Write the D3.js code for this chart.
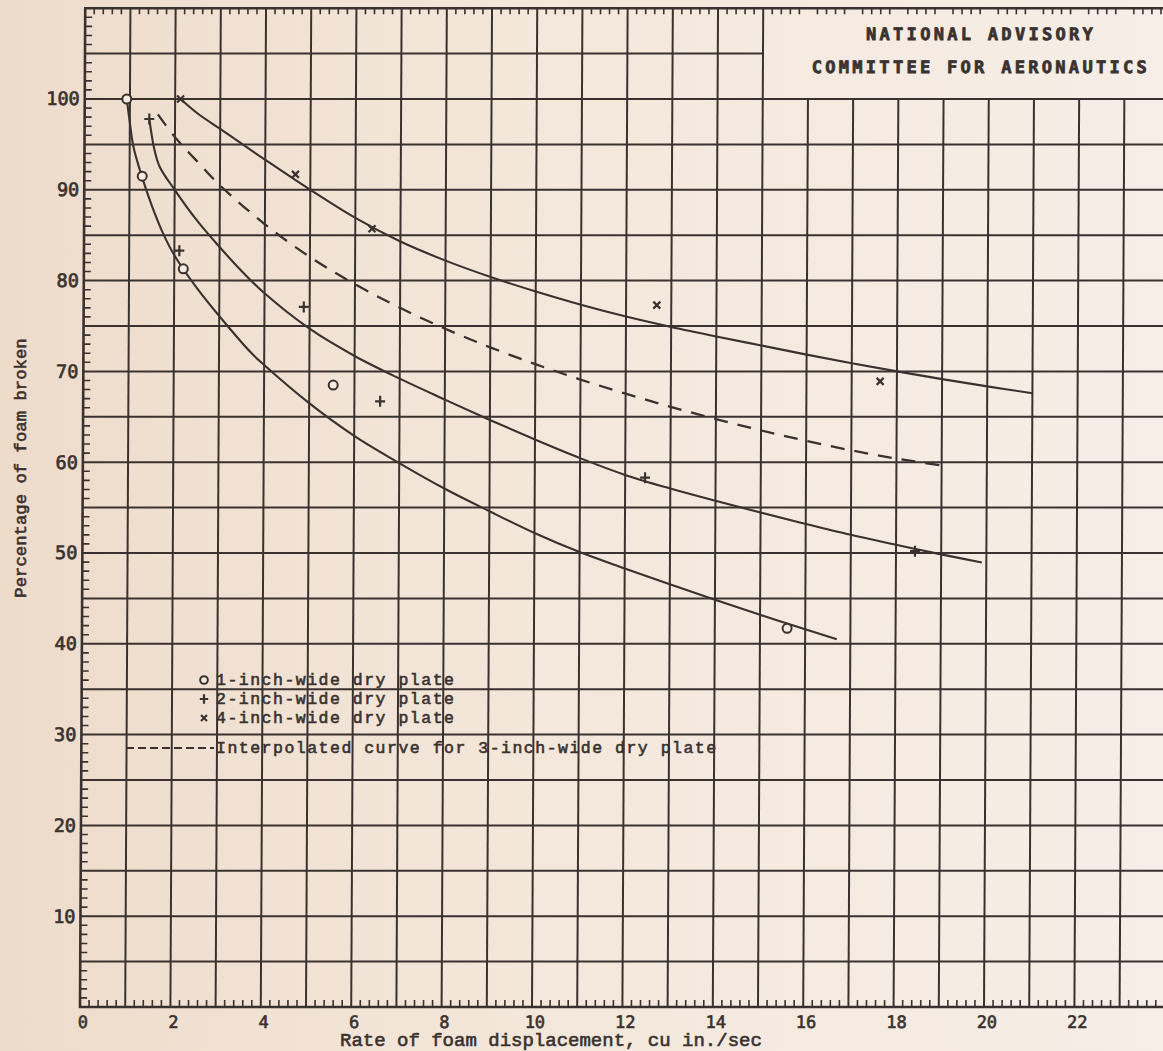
<!DOCTYPE html>
<html><head><meta charset="utf-8">
<script src="https://cdn.jsdelivr.net/npm/d3@7"></script>
<style>html,body{margin:0;padding:0;background:#f2e4d5;} svg{display:block}</style>
</head><body>
<script>
// ---------- data ----------
const xTicks = [0, 2, 4, 6, 8, 10, 12, 14, 16, 18, 20, 22];
const yTicks = [10, 20, 30, 40, 50, 60, 70, 80, 90, 100];

// measured points
const oneInchPoints  = [[0.93,100],[1.28,91.5],[2.2,81.3],[5.53,68.5],[15.6,41.7]];
const twoInchPoints  = [[1.43,97.8],[2.11,83.3],[4.87,77.1],[6.57,66.7],[12.44,58.3],[18.42,50.2]];
const fourInchPoints = [[2.12,100],[4.67,91.7],[6.37,85.7],[12.68,77.3],[17.63,68.9]];

// faired curves
const oneInchCurve = [[0.93,100],[1.0,97.4],[1.08,94.8],[1.27,91.5],[1.5,88.2],[1.73,85.4],[2,82.8],[2.5,79.2],[3,76.1],[3.7,72.1],[4,70.7],[5,66.5],[6,62.9],[7,59.9],[8,57.1],[9,54.6],[10,52.2],[11,50.1],[12,48.3],[13,46.55],[14,44.85],[15,43.2],[16,41.6],[16.7,40.5]];
const twoInchCurve = [[1.43,97.8],[1.48,96.2],[1.53,94.8],[1.66,92.6],[2,90],[2.5,86.6],[3,83.7],[3.5,81],[4,78.6],[5,74.7],[6,71.7],[7,69.2],[8,66.9],[9,64.65],[10,62.5],[11,60.45],[12,58.6],[13,57.1],[14,55.75],[15,54.45],[16,53.2],[17,52.0],[18,50.9],[19,49.85],[19.9,48.95]];
const threeInchCurve = [[1.62,98.3],[2,95.8],[2.5,93.1],[3,90.5],[4,86.2],[5,82.6],[6,79.6],[7,77.0],[8,74.7],[9,72.65],[10,70.8],[11,69.1],[12,67.55],[13,66.1],[14,64.75],[15,63.5],[16,62.35],[17,61.3],[18,60.4],[19,59.65]];
const fourInchCurve = [[2.12,100],[2.5,98.4],[3,96.7],[3.5,95.0],[4,93.3],[5,90.0],[6,86.9],[7,84.3],[8,82.2],[9,80.4],[10,78.8],[11,77.35],[12,76.05],[13,74.9],[14,73.85],[15,72.85],[16,71.85],[17,70.9],[18,70.0],[19,69.15],[20,68.35],[21,67.6]];

const legendLabels = ["1-inch-wide dry plate","2-inch-wide dry plate","4-inch-wide dry plate","Interpolated curve for 3-inch-wide dry plate"];
const headerLines = ["NATIONAL ADVISORY","COMMITTEE FOR AERONAUTICS"];
const xTitle = "Rate of foam displacement, cu in./sec";
const yTitle = "Percentage of foam broken";

// ---------- drawing ----------
const W = 1163, H = 1051;
const ink = "#3a3230";
const svg = d3.select("body").append("svg").attr("width", W).attr("height", H);

const defs = svg.append("defs");
const grad = defs.append("linearGradient").attr("id","paper").attr("x1","0").attr("x2","1").attr("y1","0").attr("y2","0");
grad.append("stop").attr("offset","0").attr("stop-color","#eedccb");
grad.append("stop").attr("offset","0.5").attr("stop-color","#f4e8dc");
grad.append("stop").attr("offset","1").attr("stop-color","#f6eee7");
svg.append("rect").attr("width",W).attr("height",H).attr("fill","url(#paper)");

const x = d3.scaleLinear().domain([0, 24]).range([80, 80 + 24 * 45.2]);
const y = d3.scaleLinear().domain([0, 110]).range([1007, 1007 - 110 * 9.08]);

const g = svg.append("g").attr("transform", "translate(0,1007) skewX(-0.3) translate(0,-1007)");

// grid
const vLines = d3.range(1, 25);
g.append("g").selectAll("line").data(vLines).join("line")
  .attr("x1", d => x(d)).attr("x2", d => x(d))
  .attr("y1", y(0)).attr("y2", d => d > 15 ? y(100) : y(110))
  .attr("stroke", ink).attr("stroke-width", 2);
const hLines = d3.range(5, 110, 5);
g.append("g").selectAll("line").data(hLines).join("line")
  .attr("x1", x(0)).attr("x2", d => d > 100 ? x(15) : x(24) + 30)
  .attr("y1", d => y(d)).attr("y2", d => y(d))
  .attr("stroke", ink).attr("stroke-width", 2);

// border
g.append("path")
  .attr("d", `M${x(24)+30},${y(110)}H${x(0)}V${y(0)}H${x(24)+30}`)
  .attr("fill","none").attr("stroke", ink).attr("stroke-width", 2.6);

// minor ticks
const xMinor = d3.range(0, 24.01, 0.2).filter(v => Math.abs(v - Math.round(v)) > 0.01);
g.append("g").selectAll("line").data(xMinor).join("line")
  .attr("x1", d => x(d)).attr("x2", d => x(d))
  .attr("y1", y(0)).attr("y2", y(0) - 7)
  .attr("stroke", ink).attr("stroke-width", 1.6);
g.append("g").selectAll("line").data(xMinor).join("line")
  .attr("x1", d => x(d)).attr("x2", d => x(d))
  .attr("y1", y(110)).attr("y2", y(110) + 6)
  .attr("stroke", ink).attr("stroke-width", 1.6);
const yMinor = d3.range(1, 110).filter(v => v % 5 !== 0);
g.append("g").selectAll("line").data(yMinor).join("line")
  .attr("x1", x(0)).attr("x2", x(0) + 7)
  .attr("y1", d => y(d)).attr("y2", d => y(d))
  .attr("stroke", ink).attr("stroke-width", 1.6);

// tick labels
g.append("g").selectAll("text").data(xTicks).join("text")
  .attr("x", d => x(d) + 3).attr("y", 1028)
  .attr("text-anchor","middle")
  .attr("font-family","'DejaVu Sans Mono', monospace").attr("font-size", 17)
  .attr("fill", ink).attr("stroke", ink).attr("stroke-width", 0.6).text(d => d);
g.append("g").selectAll("text").data(yTicks).join("text")
  .attr("x", x(0) - 5).attr("y", d => y(d) + 6.5)
  .attr("text-anchor","end")
  .attr("font-family","'DejaVu Sans Mono', monospace").attr("font-size", 18.5)
  .attr("fill", ink).attr("stroke", ink).attr("stroke-width", 0.7).text(d => d);

// header box text
g.append("g").selectAll("text").data(headerLines).join("text")
  .attr("x", 976).attr("y", (d, i) => 40 + i * 33)
  .attr("text-anchor","middle")
  .attr("font-family","'DejaVu Sans Mono', monospace").attr("font-size", 17).attr("font-weight","bold")
  .attr("letter-spacing", 3.3)
  .attr("fill", ink).attr("stroke", ink).attr("stroke-width", 0.8).text(d => d);

// curves
const line = d3.line().x(d => x(d[0])).y(d => y(d[1])).curve(d3.curveCatmullRom.alpha(0.5));
[oneInchCurve, twoInchCurve, fourInchCurve].forEach(c => {
  g.append("path").attr("d", line(c)).attr("fill","none").attr("stroke", ink).attr("stroke-width", 2.1);
});
g.append("path").attr("d", line(threeInchCurve)).attr("fill","none").attr("stroke", ink)
  .attr("stroke-width", 2.3).attr("stroke-dasharray","14,10");

// markers
function marker(sel, type, s) {
  if (type === "circle") {
    sel.append("circle").attr("r", 4.5 * s).attr("fill","#f5ebe1").attr("stroke", ink).attr("stroke-width", 2);
  } else if (type === "plus") {
    sel.append("path").attr("d", `M${-5*s},0H${5*s}M0,${-5.5*s}V${5.5*s}`).attr("stroke", ink).attr("stroke-width", 2.2);
  } else {
    sel.append("path").attr("d", `M${-3.5*s},${-3.5*s}L${3.5*s},${3.5*s}M${-3.5*s},${3.5*s}L${3.5*s},${-3.5*s}`).attr("stroke", ink).attr("stroke-width", 2.2);
  }
}
[[oneInchPoints,"circle"],[twoInchPoints,"plus"],[fourInchPoints,"cross"]].forEach(([pts, t]) => {
  g.append("g").selectAll("g").data(pts).join("g")
    .attr("transform", d => `translate(${x(d[0])},${y(d[1])})`)
    .each(function() { marker(d3.select(this), t, 1); });
});

// legend
const legendY = [680, 699, 718, 748];
const legTypes = ["circle","plus","cross"];
legTypes.forEach((t, i) => {
  const lg = svg.append("g").attr("transform", `translate(204,${legendY[i]})`);
  marker(lg, t, 0.85);
});
svg.append("line").attr("x1",126).attr("x2",214).attr("y1",legendY[3]).attr("y2",legendY[3])
  .attr("stroke", ink).attr("stroke-width", 2).attr("stroke-dasharray","8,4");
svg.append("g").selectAll("text").data(legendLabels).join("text")
  .attr("x", 216).attr("y", (d, i) => legendY[i] + 5)
  .attr("font-family","'Liberation Mono', 'Courier New', monospace").attr("font-size", 16.5)
  .attr("letter-spacing", 1.5)
  .attr("fill", ink).attr("stroke", ink).attr("stroke-width", 0.6)
  .text(d => d);

// axis titles
svg.append("text").attr("x", 340).attr("y", 1046)
  .attr("font-family","'Liberation Mono', 'Courier New', monospace").attr("font-size", 19)
  .attr("fill", ink).attr("stroke", ink).attr("stroke-width", 0.6).text(xTitle);
svg.append("text").attr("transform", "translate(26,468) rotate(-90)")
  .attr("text-anchor","middle")
  .attr("font-family","'Liberation Mono', 'Courier New', monospace").attr("font-size", 17.3)
  .attr("fill", ink).attr("stroke", ink).attr("stroke-width", 0.6).text(yTitle);
</script>
</body></html>
